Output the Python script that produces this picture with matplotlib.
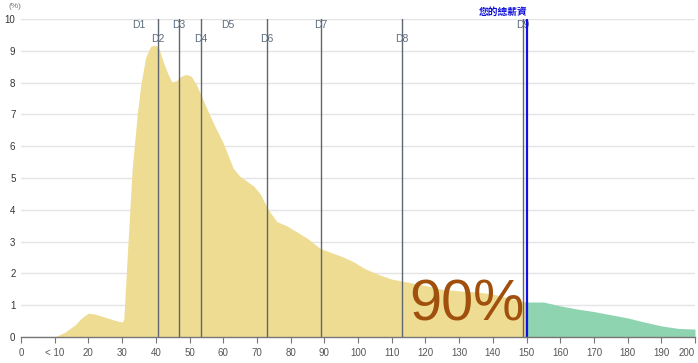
import matplotlib
matplotlib.use("Agg")
import matplotlib.pyplot as plt

# ---- data ----
yellow_x = [10, 13, 16, 18, 20, 22, 25, 28, 30, 30.5, 31.5, 33, 34.5, 35.5, 37, 38.5, 40, 41, 42.2, 43.5,
            44.7, 46, 47.5, 49, 50.5, 52, 53.6, 55.5, 57.1, 60, 63, 65, 67, 69, 71, 73.4, 75.9, 78.8,
            81.8, 85, 88.7, 92.7, 95.5, 98.6, 102, 106.5, 110, 115, 120, 125, 130, 135, 140, 145, 149.5]
yellow_y = [0, 0.15, 0.38, 0.6, 0.75, 0.72, 0.62, 0.52, 0.47, 0.55, 2.5, 5.3, 7.0, 7.9, 8.8, 9.15, 9.18,
            9.05, 8.66, 8.3, 8.03, 8.05, 8.2, 8.26, 8.2, 7.95, 7.56, 7.1, 6.72, 6.1, 5.3, 5.05, 4.9, 4.75,
            4.5, 4.0, 3.63, 3.5, 3.31, 3.1, 2.79, 2.63, 2.52, 2.37, 2.15, 1.95, 1.82, 1.72, 1.62, 1.5,
            1.45, 1.42, 1.35, 1.22, 1.1]
green_x = [149.5, 150, 155, 160, 165, 170, 175, 180, 185, 190, 195, 200]
green_y = [1.1, 1.1, 1.1, 0.98, 0.88, 0.8, 0.7, 0.6, 0.47, 0.35, 0.27, 0.25]

decile_labels = ["D1", "D2", "D3", "D4", "D5", "D6", "D7", "D8", "D9"]
decile_values = [35.0, 40.7, 46.9, 53.4, 61.4, 73.0, 89.0, 113.1, 149.0]
decile_has_line = [False, True, True, True, False, True, True, True, True]

your_salary = 150.1
your_label = "您的總薪資"
percent_text = "90%"

x_ticks = list(range(0, 201, 10))
x_tick_labels = ["0", "< 10"] + [str(v) for v in range(20, 201, 10)]
y_ticks = list(range(0, 11))

# ---- figure ----
W, H = 698, 363
fig = plt.figure(figsize=(W / 100, H / 100), dpi=100)
ax = fig.add_axes([21 / W, (H - 337) / H, (695 - 21) / W, (337 - 19) / H])
ax.set_xlim(0, 200)
ax.set_ylim(0, 10)

for y in y_ticks:
    ax.axhline(y, color="#e4e4e4", lw=1, zorder=0)

ax.fill_between(yellow_x, 0, yellow_y, color="#eedc93", lw=0, zorder=1)
ax.fill_between(green_x, 0, green_y, color="#8fd4b0", lw=0, zorder=1)

for i, (lab, val, has) in enumerate(zip(decile_labels, decile_values, decile_has_line)):
    if has:
        ax.plot([val, val], [0, 10], color="#5f6670", lw=1, zorder=3)
    ty = 9.82 if i % 2 == 0 else 9.38
    ax.text(val, ty, lab, ha="center", va="center", fontsize=7.5, color="#5b6b7d",
            family="Liberation Sans", zorder=4)

ax.plot([your_salary, your_salary], [0, 10], color="#1010e0", lw=1.6, zorder=5)
fig.text(528 / W, 1 - 12 / H, your_label, ha="right", va="center", fontsize=7,
         color="#0a0ad8", family=["Noto Sans CJK TC", "DejaVu Sans"], fontweight="bold")

ax.text(132.3, 0.53, percent_text, ha="center", va="baseline", fontsize=41.5,
        color="#a0500c", family="Liberation Sans", zorder=6)

fig.text(15 / W, 1 - 6 / H, "(%)", ha="center", va="center", fontsize=6, color="#777777",
         family="Liberation Sans")

ax.set_xticks(x_ticks)
ax.set_xticklabels(x_tick_labels, fontsize=7, color="#555555", family="Liberation Sans")
ax.get_xticklabels()[-1].set_horizontalalignment("right")
ax.set_yticks(y_ticks)
ax.set_yticklabels([str(v) for v in y_ticks], fontsize=7, color="#333333", family="Liberation Sans")
ax.tick_params(axis="x", length=4, color="#777777", pad=4)
ax.tick_params(axis="y", length=0, pad=4)

for s in ["top", "right", "left"]:
    ax.spines[s].set_visible(False)
ax.spines["bottom"].set_color("#777777")
ax.spines["bottom"].set_linewidth(1)
ax.spines["bottom"].set_zorder(7)

fig.savefig("out.png", dpi=100)
